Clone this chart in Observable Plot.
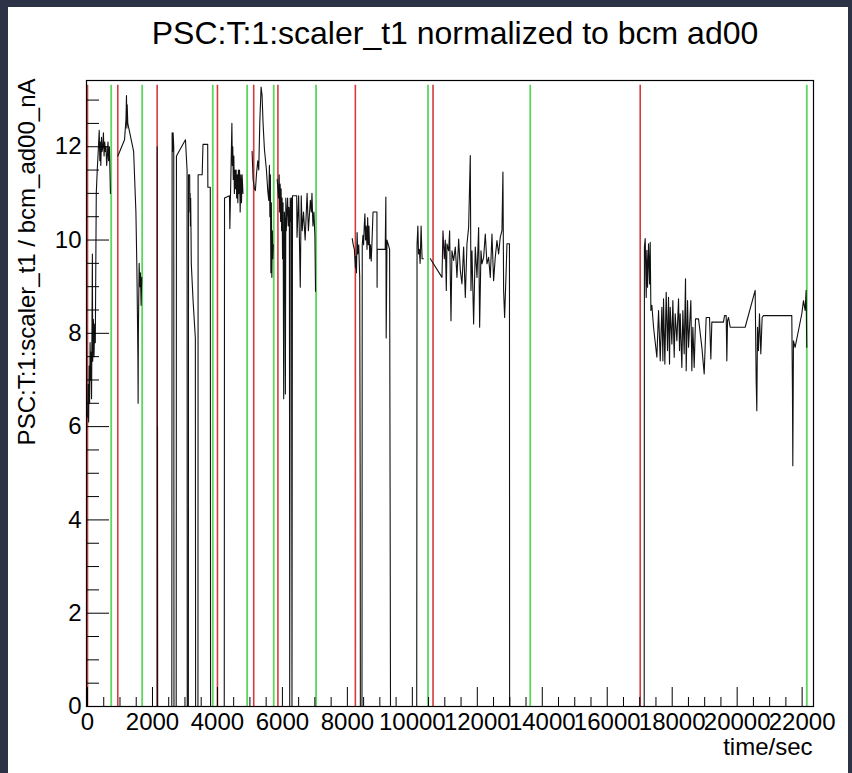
<!DOCTYPE html>
<html>
<head>
<meta charset="utf-8">
<script src="https://cdn.jsdelivr.net/npm/d3@7"></script>
<script src="https://cdn.jsdelivr.net/npm/@observablehq/plot@0.6"></script>
<style>
  html, body { margin: 0; padding: 0; background: #2c3346; }
  #wrap { position: relative; width: 852px; height: 773px; overflow: hidden; background: #2c3346; }
  #panel { position: absolute; left: 8px; top: 7px; width: 840px; height: 766px; background: #ffffff; }
  #chart { position: absolute; left: 0; top: 0; }
</style>
</head>
<body>
<div id="wrap"><div id="panel"></div><div id="chart"></div></div>
<script>
const chartTitle = "PSC:T:1:scaler_t1 normalized to bcm ad00";
const yTitle = "PSC:T:1:scaler_t1 / bcm_ad00_nA";
const xTitle = "time/sec";
const xTickLabels = [0, 2000, 4000, 6000, 8000, 10000, 12000, 14000, 16000, 18000, 20000, 22000];
const yTickLabels = [0, 2, 4, 6, 8, 10, 12];

// run start (red) and run end (green) marker times
const runStarts = [0, 932, 2144, 4000, 5117, 5862, 8246, 10637, 17015];
const runEnds = [730, 1683, 3856, 4914, 5733, 7036, 10483, 13630, 22144];

// [time, value] per run
const run1 = [[5,6.2],[20,6.9],[35,6.1],[50,7.3],[65,6.5],[80,7.8],[95,7.0],[110,7.6],[125,6.6],[150,9.7],[160,7.4],[180,8.3],[200,7.5],[220,8.2],[240,7.8],[270,11.0],[300,11.5],[330,11.9],[360,12.35],[380,11.7],[395,12.1],[410,11.6],[430,12.2],[450,11.9],[470,12.0],[490,12.3],[510,11.8],[530,12.1],[550,11.9],[570,12.0],[590,11.6],[610,11.8],[630,12.1],[650,11.7],[675,12.0],[705,11.0]];
const run2 = [[935,11.8],[1140,12.15],[1185,12.6],[1200,13.1],[1212,12.4],[1222,12.9],[1240,12.5],[1420,11.9],[1490,10.6],[1520,9.4],[1545,7.9],[1552,7.4],[1558,6.5],[1566,8.0],[1590,9.5],[1610,9.0],[1630,9.3],[1650,8.6],[1670,9.2]];
const run3 = [[2145,12.0],[2150,0],[2155,6.0],[2160,0],[2595,0],[2605,12.3],[2620,11.9],[2635,12.3],[2655,12.0],[2662,0],[2730,0],[2738,11.8],[3015,12.15],[3065,11.5],[3070,0],[3105,0],[3110,11.4],[3145,11.4],[3152,10.6],[3160,11.0],[3168,10.3],[3176,10.9],[3185,10.3],[3195,9.5],[3250,8.7],[3320,7.9],[3328,0],[3400,0],[3405,11.4],[3530,11.4],[3555,12.05],[3700,12.05],[3705,11.13],[3780,11.13],[3788,0],[3850,0]];
const run4 = [[4210,0],[4218,10.9],[4370,10.95],[4382,10.25],[4445,12.5],[4458,11.6],[4472,12.0],[4488,11.3],[4505,11.8],[4522,11.0],[4540,11.5],[4558,11.1],[4575,11.5],[4592,10.9],[4610,11.4],[4628,10.8],[4645,11.5],[4662,11.0],[4680,11.5],[4700,10.6],[4720,11.4],[4740,10.8],[4760,11.4],[4785,11.0]];
const run5 = [[5067,11.9],[5098,11.3],[5138,11.1],[5169,11.06],[5200,11.4],[5241,11.7],[5272,11.5],[5303,12.5],[5344,13.28],[5374,13.1],[5405,12.5],[5446,11.95],[5508,11.5],[5549,11.06],[5580,10.85],[5600,11.6],[5615,10.5],[5630,11.4],[5645,9.3],[5660,10.8],[5675,9.2],[5690,10.2],[5705,9.6],[5720,9.9]];
const run6 = [[5840,11.3],[5880,10.9],[5900,11.4],[5915,10.6],[5930,11.2],[5945,10.4],[5960,11.1],[5975,10.2],[5990,10.9],[6005,9.6],[6020,10.8],[6040,6.6],[6060,10.6],[6080,10.3],[6092,6.7],[6105,10.9],[6120,10.2],[6140,10.6],[6160,10.9],[6180,10.3],[6200,10.7],[6215,10.5],[6225,0],[6240,10.9],[6260,10.4],[6280,10.9],[6295,0],[6310,10.95],[6440,10.95],[6450,10.06],[6500,10.95],[6550,8.99],[6580,10.95],[6610,10.2],[6650,10.6],[6700,10.0],[6760,11.0],[6800,10.2],[6860,10.85],[6890,10.6],[6910,11.0],[6940,10.3],[6970,10.6],[7000,10.1],[7020,8.9]];
const run7 = [[8150,10.03],[8180,9.9],[8215,9.8],[8250,9.4],[8265,9.65],[8280,9.3],[8300,10.16],[8320,9.7],[8350,9.9],[8380,9.2],[8395,4.6],[8400,0],[8450,0],[8458,9.9],[8480,10.1],[8500,9.9],[8520,10.3],[8540,10.56],[8560,10.0],[8580,10.3],[8605,9.8],[8625,10.48],[8645,9.9],[8665,10.3],[8690,9.6],[8710,9.9],[8735,9.55],[8760,10.0],[8790,10.6],[8910,10.6],[8915,8.99],[8920,9.8],[9165,9.8],[9185,10.92],[9195,7.9],[9220,10.0],[9260,9.9],[9300,9.8],[9315,4.7],[9328,0],[10135,0],[10145,9.9],[10170,10.3],[10190,9.7],[10215,9.8],[10240,9.5],[10270,10.3],[10300,9.6],[10340,9.6]];
const run8 = [[10554,9.6],[10913,9.2],[10943,10.2],[10984,9.6],[11015,10.0],[11046,8.92],[11066,9.92],[11118,9.77],[11148,10.2],[11190,8.27],[11220,9.77],[11272,9.56],[11323,9.85],[11374,9.2],[11426,10.02],[11477,9.35],[11528,9.06],[11579,9.85],[11631,8.77],[11682,9.92],[11733,10.27],[11784,11.81],[11805,8.92],[11836,9.77],[11887,8.2],[11938,9.85],[11990,9.2],[12041,10.27],[12072,8.13],[12113,9.77],[12143,9.49],[12195,9.63],[12246,10.13],[12297,9.49],[12348,9.63],[12400,9.2],[12451,10.13],[12502,9.13],[12553,9.63],[12605,9.99],[12656,9.7],[12707,10.06],[12759,10.2],[12789,11.46],[12810,8.92],[12841,8.34],[12861,8.77],[12882,9.2],[12913,9.92],[12990,9.92],[12995,0],[13600,0]];
const run9 = [[17138,0],[17145,9.85],[17169,10.03],[17200,8.77],[17220,9.78],[17241,8.99],[17272,9.92],[17303,9.06],[17323,9.95],[17344,8.49],[17374,8.6],[17426,8.13],[17528,7.49],[17580,8.49],[17631,7.41],[17682,8.56],[17713,7.41],[17733,8.74],[17774,7.34],[17815,8.88],[17856,7.63],[17887,8.77],[17918,7.34],[17938,8.56],[17990,7.77],[18020,8.7],[18062,7.49],[18092,8.42],[18144,7.84],[18195,8.74],[18226,7.63],[18246,8.42],[18297,7.27],[18328,8.49],[18369,7.56],[18410,9.17],[18431,7.2],[18472,8.7],[18503,7.7],[18533,8.13],[18574,8.7],[18605,7.2],[18636,8.13],[18677,7.27],[18718,8.31],[18810,8.31],[18841,8.13],[18913,7.7],[18985,7.13],[19046,8.34],[19149,8.34],[19190,7.45],[19220,8.24],[19579,8.24],[19610,8.38],[19662,8.38],[19682,7.41],[19703,8.27],[19733,8.34],[19785,8.13],[20246,8.13],[20554,8.92],[20585,6.99],[20605,6.34],[20626,8.13],[20656,7.63],[20687,8.42],[20728,7.56],[20769,8.34],[20810,8.38],[21682,8.38],[21702,6.77],[21713,5.16],[21733,7.84],[21784,7.7],[21990,8.42],[22041,8.7],[22092,8.49],[22123,8.92],[22143,7.7]];

const runs = [run1, run2, run3, run4, run5, run6, run7, run8, run9];
const points = runs.flatMap((r, i) => r.map(([t, v]) => ({t, v, run: i + 1})));

const xMinor = d3.range(500, 22001, 500).filter(d => d % 2000 !== 0);
const yMinor = d3.range(0.5, 13.01, 0.5).filter(d => d % 2 !== 0);

const W = 852, H = 773, ML = 86, MR = 39, MT = 80, MB = 67;
const innerW = W - ML - MR, innerH = H - MT - MB;
const font = "'Liberation Sans', Arial, Helvetica, sans-serif";

const chart = Plot.plot({
  width: W, height: H,
  marginLeft: ML, marginRight: MR, marginTop: MT, marginBottom: MB,
  style: {background: "transparent", fontFamily: font, overflow: "visible"},
  x: {domain: [-31, 22350], axis: null},
  y: {domain: [0, 13.42], axis: null},
  marks: [
    Plot.ruleX(runStarts, {x: d => d, y1: 0, y2: 13.32, stroke: "#d43c3c", strokeWidth: 1.6}),
    Plot.ruleX(runEnds, {x: d => d, y1: 0, y2: 13.32, stroke: "#5cd65c", strokeWidth: 1.8}),
    Plot.line(points, {x: "t", y: "v", z: "run", stroke: "#111", strokeWidth: 1.1, curve: "linear"}),
    Plot.ruleX(xTickLabels, {x: d => d, insetTop: innerH - 19, stroke: "black", strokeWidth: 1}),
    Plot.ruleX(xMinor, {x: d => d, insetTop: innerH - 9, stroke: "black", strokeWidth: 1}),
    Plot.ruleY(yTickLabels, {y: d => d, insetRight: innerW - 23, stroke: "black", strokeWidth: 1}),
    Plot.ruleY(yMinor, {y: d => d, insetRight: innerW - 13, stroke: "black", strokeWidth: 1}),
    Plot.frame({stroke: "black", strokeWidth: 1.2}),
    Plot.text(xTickLabels, {x: d => d, text: d => String(d), frameAnchor: "bottom", dy: 16, lineAnchor: "middle", fontSize: 24, fill: "black"}),
    Plot.text(yTickLabels, {y: d => d, text: d => String(d), frameAnchor: "left", dx: -5, textAnchor: "end", lineAnchor: "middle", fontSize: 24, fill: "black"}),
    Plot.text([xTitle], {text: d => d, frameAnchor: "bottom-right", dx: -1, dy: 41, textAnchor: "end", lineAnchor: "middle", fontSize: 24, fill: "black"}),
    Plot.text([yTitle], {text: d => d, frameAnchor: "top-left", rotate: -90, dx: -59, dy: -2, textAnchor: "end", lineAnchor: "middle", fontSize: 24, fill: "black"}),
    Plot.text([chartTitle], {text: d => d, frameAnchor: "top", dx: 5, dy: -47, lineAnchor: "middle", fontSize: 32, fill: "black"})
  ]
});
document.getElementById("chart").appendChild(chart);
</script>
</body>
</html>
